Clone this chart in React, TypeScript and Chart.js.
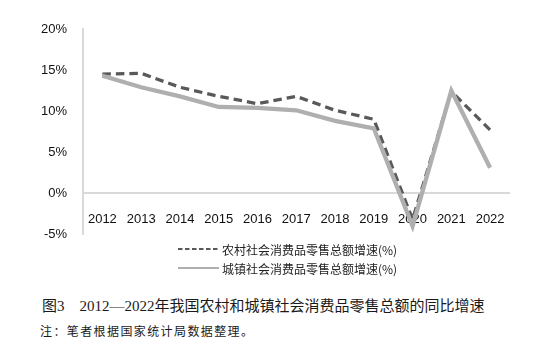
import React, { useEffect, useRef } from "react";
import { Chart, registerables } from "chart.js";

Chart.register(...registerables);

const years = ["2012", "2013", "2014", "2015", "2016", "2017", "2018", "2019", "2020", "2021", "2022"];
const ruralGrowth = [14.5, 14.6, 12.9, 11.8, 10.9, 11.8, 10.1, 9.0, -3.2, 12.4, 7.7];
const urbanGrowth = [14.3, 12.9, 11.8, 10.5, 10.4, 10.1, 8.8, 7.9, -4.0, 12.5, 3.1];
const ruralLabel = "农村社会消费品零售总额增速(%)";
const urbanLabel = "城镇社会消费品零售总额增速(%)";
const yTicks = [-5, 0, 5, 10, 15, 20];
const captionText = "图3　2012—2022年我国农村和城镇社会消费品零售总额的同比增速";
const noteText = "注：笔者根据国家统计局数据整理。";

const RURAL_COLOR = "#595959";
const URBAN_COLOR = "#afafaf";
const AXIS_COLOR = "#d9d9d9";

export default function App() {
  const canvasRef = useRef<HTMLCanvasElement | null>(null);

  useEffect(() => {
    const canvas = canvasRef.current;
    if (!canvas) return;
    const chart = new Chart(canvas, {
      type: "line",
      data: {
        labels: years,
        datasets: [
          {
            label: ruralLabel,
            data: ruralGrowth,
            borderColor: RURAL_COLOR,
            borderWidth: 3.3,
            borderDash: [8.5, 5],
            pointRadius: 0,
            tension: 0,
            fill: false,
            order: 1,
          },
          {
            label: urbanLabel,
            data: urbanGrowth,
            borderColor: URBAN_COLOR,
            borderWidth: 4.3,
            pointRadius: 0,
            tension: 0,
            fill: false,
            order: 0,
          },
        ],
      },
      options: {
        responsive: false,
        animation: false,
        devicePixelRatio: 1,
        layout: { padding: { left: 0, right: 35.5, top: 29, bottom: 8 } },
        plugins: { legend: { display: false }, tooltip: { enabled: false } },
        scales: {
          x: {
            type: "category",
            offset: true,
            position: { y: 0 } as any,
            grid: { display: false, drawTicks: false },
            border: { display: true, color: AXIS_COLOR, width: 2 },
            ticks: {
              padding: 18,
              color: "#111",
              font: { family: "'Liberation Sans', Arial, sans-serif", size: 13 },
              maxRotation: 0,
              autoSkip: false,
            },
            afterFit: (scale: any) => {
              scale.height = 0;
            },
          },
          y: {
            position: "left",
            min: yTicks[0],
            max: yTicks[yTicks.length - 1],
            grid: { display: false, drawTicks: false },
            border: { display: true, color: AXIS_COLOR, width: 2 },
            afterBuildTicks: (scale: any) => {
              scale.ticks = yTicks.map((v) => ({ value: v }));
            },
            ticks: {
              padding: 16,
              color: "#111",
              font: { family: "'Liberation Sans', Arial, sans-serif", size: 13 },
              callback: (v: any) => `${v}%`,
            },
            afterFit: (scale: any) => {
              scale.width = 83;
            },
          },
        },
      },
    });
    return () => chart.destroy();
  }, []);

  const legendRow = (label: string, color: string, dashed: boolean, top: number) => (
    <div
      style={{
        position: "absolute",
        left: 178,
        top,
        height: 13,
        display: "flex",
        alignItems: "center",
        whiteSpace: "nowrap",
      }}
    >
      <svg width={41} height={6} style={{ display: "block" }}>
        <line
          x1={0}
          y1={3}
          x2={41}
          y2={3}
          stroke={color}
          strokeWidth={2}
          strokeDasharray={dashed ? "4.5 2.5" : undefined}
        />
      </svg>
      <span
        style={{
          marginLeft: 3,
          fontFamily: "'Noto Sans CJK SC', sans-serif",
          fontSize: 12,
          lineHeight: "13px",
          color: "#222",
        }}
      >
        {label}
      </span>
    </div>
  );

  return (
    <div
      style={{
        position: "absolute",
        left: 0,
        top: 0,
        width: 545,
        height: 356,
        background: "#fff",
        overflow: "hidden",
      }}
    >
      <canvas
        ref={canvasRef}
        width={545}
        height={258}
        style={{ position: "absolute", left: 0, top: 0, width: 545, height: 258 }}
      />
      {legendRow(ruralLabel, RURAL_COLOR, true, 242.5)}
      {legendRow(urbanLabel, URBAN_COLOR, false, 261.5)}
      <div
        style={{
          position: "absolute",
          left: 42,
          top: 298.5,
          fontFamily: "'Liberation Serif', 'Noto Sans CJK SC', serif",
          fontSize: 15,
          lineHeight: "15px",
          color: "#1a1a1a",
          whiteSpace: "nowrap",
        }}
      >
        {captionText}
      </div>
      <div
        style={{
          position: "absolute",
          left: 40,
          top: 325,
          fontFamily: "'Noto Sans CJK SC', sans-serif",
          fontSize: 12,
          lineHeight: "12px",
          letterSpacing: 1.4,
          color: "#1a1a1a",
          whiteSpace: "nowrap",
        }}
      >
        {noteText}
      </div>
    </div>
  );
}
